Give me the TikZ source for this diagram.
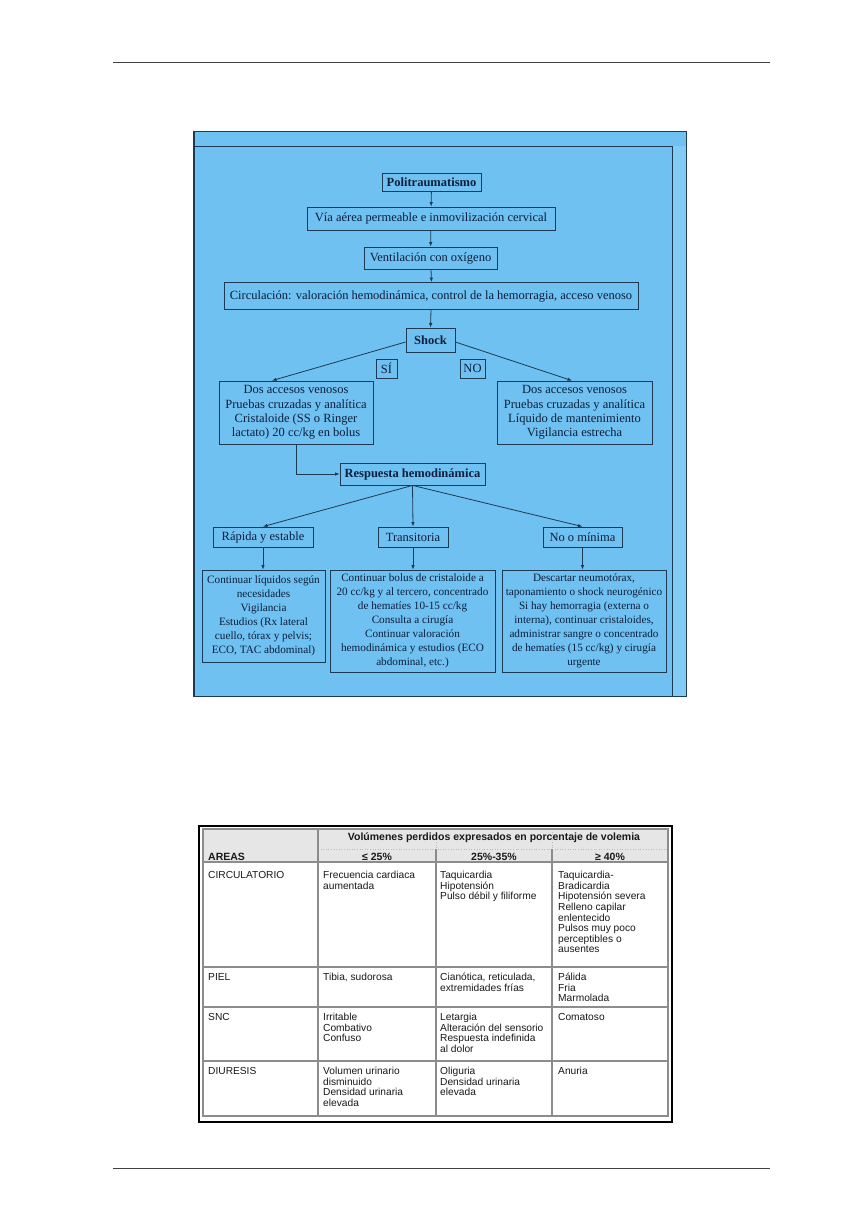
\documentclass[tikz,border=0pt]{standalone}
\usepackage{fontspec}
\setmainfont{Liberation Serif}
\setsansfont{Liberation Sans}
\usetikzlibrary{arrows.meta}
\definecolor{bluebg}{HTML}{6EC1F0}
\definecolor{bluestrip}{HTML}{82CBF4}
\definecolor{boxline}{HTML}{1E3A52}
\definecolor{txt}{HTML}{0E1E3C}
\definecolor{hdrgray}{HTML}{E6E6E6}
\definecolor{tline}{HTML}{8C8C8C}
\begin{document}
\begin{tikzpicture}[x=1pt,y=-1pt,
  fbox/.style={draw=boxline,line width=0.8pt,inner sep=0pt,align=center,text=txt,font=\fontsize{12.5}{14.3}\selectfont},
  sbox/.style={fbox,font=\fontsize{11.2}{14}\selectfont},
  conn/.style={draw=boxline,line width=0.8pt,-{Latex[length=4.5pt,width=3.5pt]}},
  tcell/.style={anchor=north west,inner sep=0pt,align=left,text=black!90,font=\sffamily\fontsize{10.2}{10.6}\selectfont},
  thead/.style={inner sep=0pt,text=black!90,font=\sffamily\bfseries\fontsize{10.5}{11}\selectfont},
  rule/.style={draw=black!75,line width=0.9pt},
  tgrid/.style={draw=tline,line width=1.3pt}
]
\useasboundingbox (0,0) rectangle (843,1229);
\fill[white] (0,0) rectangle (843,1229);

% page rules
\coordinate (r1a) at (113,62); \coordinate (r1b) at (770,62);
\coordinate (r2a) at (113,1168); \coordinate (r2b) at (770,1168);
\draw[rule] (r1a) -- (r1b);
\draw[rule] (r2a) -- (r2b);

% blue frame
\fill[bluestrip] (193,131) rectangle (686,696);
\fill[bluebg] (193,131) rectangle (672,696);
\fill[bluebg] (672,131) rectangle (686,146);
\draw[boxline,line width=1pt] (193,131) rectangle (686,696);
\draw[boxline,line width=0.9pt] (193,146) -- (672,146) -- (672,696);
\draw[boxline,line width=2pt] (194,131) -- (194,696);

% flowchart nodes
\node[fbox,minimum width=99pt,minimum height=18pt] (poli) at (431.5,182) {\textbf{Politraumatismo}};
\node[fbox,minimum width=248pt,minimum height=23pt] (via) at (431,218.5) {Vía aérea permeable e inmovilización cervical};
\node[fbox,minimum width=133pt,minimum height=22pt] (vent) at (430.5,258) {Ventilación con oxígeno};
\node[fbox,minimum width=414pt,minimum height=27pt] (circ) at (431,296) {Circulación: valoración hemodinámica, control de la hemorragia, acceso venoso};
\node[fbox,minimum width=49pt,minimum height=24pt] (shock) at (430.5,340) {\textbf{Shock}};
\node[fbox,minimum width=21pt,minimum height=19pt] (si) at (386.5,368.5) {SÍ};
\node[fbox,minimum width=25pt,minimum height=19pt] (no) at (472.5,368.5) {NO};
\node[fbox,minimum width=154pt,minimum height=63pt] (L) at (296,412.5) {Dos accesos venosos\\Pruebas cruzadas y analítica\\Cristaloide (SS o Ringer\\lactato) 20 cc/kg en bolus};
\node[fbox,minimum width=155pt,minimum height=63pt] (R) at (574.5,412.5) {Dos accesos venosos\\Pruebas cruzadas y analítica\\Líquido de mantenimiento\\Vigilancia estrecha};
\node[fbox,minimum width=145pt,minimum height=22pt] (resp) at (412.5,474) {\textbf{Respuesta hemodinámica}};
\node[fbox,minimum width=100pt,minimum height=20pt] (rap) at (263,537) {Rápida y estable};
\node[fbox,minimum width=70pt,minimum height=20pt] (tra) at (413,537) {Transitoria};
\node[fbox,minimum width=79pt,minimum height=20pt] (nom) at (582.5,537) {No o mínima};
\node[sbox,minimum width=123pt,minimum height=92pt] (A) at (263.5,616) {Continuar líquidos según\\necesidades\\Vigilancia\\Estudios (Rx lateral\\cuello, tórax y pelvis;\\ECO, TAC abdominal)};
\node[sbox,minimum width=165pt,minimum height=102pt] (B) at (412.5,621) {Continuar bolus de cristaloide a\\20 cc/kg y al tercero, concentrado\\de hematíes 10-15 cc/kg\\Consulta a cirugía\\Continuar valoración\\hemodinámica y estudios (ECO\\abdominal, etc.)};
\node[sbox,minimum width=164pt,minimum height=102pt] (C) at (584,621) {Descartar neumotórax,\\taponamiento o shock neurogénico\\Si hay hemorragia (externa o\\interna), continuar cristaloides,\\administrar sangre o concentrado\\de hematíes (15 cc/kg) y cirugía\\urgente};

% connectors
\draw[conn] (poli) -- (via);
\draw[conn] (via) -- (vent);
\draw[conn] ([xshift=0.5pt]vent.south) -- ([xshift=0.5pt]circ.north);
\draw[conn] (circ.south) -- (shock.north);
\draw[conn] ([yshift=-2pt]shock.west) -- ([xshift=-24pt]L.north);
\draw[conn] ([yshift=-2pt]shock.east) -- ([xshift=-2.5pt]R.north);
\draw[conn] (L.south) |- (resp.west);
\draw[conn] (resp.south) -- (rap.north);
\draw[conn] (resp.south) -- (tra.north);
\draw[conn] (resp.south) -- (nom.north);
\draw[conn] (rap.south) -- ([xshift=-0.5pt]A.north);
\draw[conn] (tra.south) -- ([xshift=0.5pt]B.north);
\draw[conn] (nom.south) -- ([xshift=-1.5pt]C.north);

% table
\fill[hdrgray] (203,829) rectangle (668,862);
\draw[tline!60,line width=0.6pt,dotted] (318,849) -- (668,849);
\draw[tline!60,line width=0.6pt,dotted] (436,829) -- (436,849);
\draw[tline!60,line width=0.6pt,dotted] (552,829) -- (552,849);
\draw[tgrid] (318,829) -- (318,1116);
\draw[tgrid] (436,849) -- (436,1116);
\draw[tgrid] (552,849) -- (552,1116);
\draw[tgrid] (203,862) -- (668,862);
\draw[tgrid] (203,967) -- (668,967);
\draw[tgrid] (203,1007) -- (668,1007);
\draw[tgrid] (203,1061) -- (668,1061);
\draw[tgrid] (203,829) rectangle (668,1116);
\draw[black,line width=1.1pt] (199,826) rectangle (672,1122);

\node[thead] (h0) at (494,838) {Volúmenes perdidos expresados en porcentaje de volemia};
\node[thead,anchor=west] (h1) at (208,857) {AREAS};
\node[thead] (h2) at (377,857) {≤ 25\%};
\node[thead] (h3) at (494,857) {25\%-35\%};
\node[thead] (h4) at (610,857) {≥ 40\%};

\node[tcell] (c11) at (208,871) {CIRCULATORIO};
\node[tcell] (c12) at (323,871) {Frecuencia cardiaca\\aumentada};
\node[tcell] (c13) at (440,871) {Taquicardia\\Hipotensión\\Pulso débil y filiforme};
\node[tcell] (c14) at (558,871) {Taquicardia-\\Bradicardia\\Hipotensión severa\\Relleno capilar\\enlentecido\\Pulsos muy poco\\perceptibles o\\ausentes};

\node[tcell] (c21) at (208,973) {PIEL};
\node[tcell] (c22) at (323,973) {Tibia, sudorosa};
\node[tcell] (c23) at (440,973) {Cianótica, reticulada,\\extremidades frías};
\node[tcell] (c24) at (558,973) {Pálida\\Fria\\Marmolada};

\node[tcell] (c31) at (208,1013) {SNC};
\node[tcell] (c32) at (323,1013) {Irritable\\Combativo\\Confuso};
\node[tcell] (c33) at (440,1013) {Letargia\\Alteración del sensorio\\Respuesta indefinida\\al dolor};
\node[tcell] (c34) at (558,1013) {Comatoso};

\node[tcell] (c41) at (208,1067) {DIURESIS};
\node[tcell] (c42) at (323,1067) {Volumen urinario\\disminuido\\Densidad urinaria\\elevada};
\node[tcell] (c43) at (440,1067) {Oliguria\\Densidad urinaria\\elevada};
\node[tcell] (c44) at (558,1067) {Anuria};
\end{tikzpicture}
\end{document}
